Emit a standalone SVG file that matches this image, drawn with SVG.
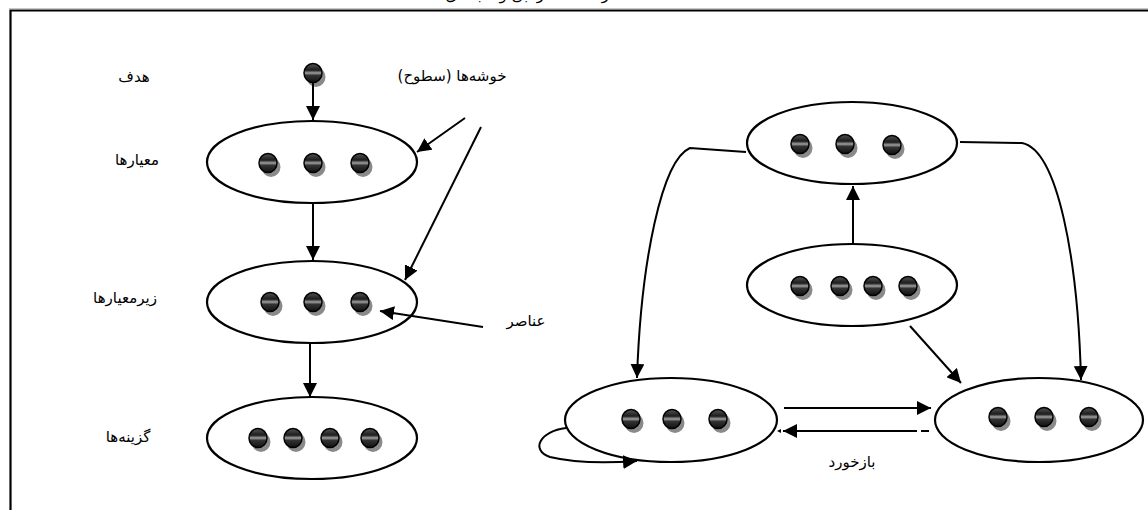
<svg xmlns="http://www.w3.org/2000/svg" xmlns:xlink="http://www.w3.org/1999/xlink" width="1148" height="510" viewBox="0 0 1148 510">
<style>
.lbl{font-family:"DejaVu Sans",sans-serif;font-size:15px;fill:#000;}
.el{fill:#fff;stroke:#000;stroke-width:2.2;}
.cn{fill:none;stroke:#000;stroke-width:2;}
.frame{fill:none;stroke:#000;stroke-width:2.2;}
</style>
<defs>
<linearGradient id="dg" x1="0" y1="0" x2="0" y2="1">
<stop offset="0" stop-color="#555"/>
<stop offset="0.35" stop-color="#1c1c1c"/>
<stop offset="0.5" stop-color="#a0a0a0"/>
<stop offset="0.62" stop-color="#333"/>
<stop offset="1" stop-color="#111"/>
</linearGradient>
<g id="dot">
<ellipse cx="3" cy="4" rx="9.5" ry="10" fill="#8a8a8a"/>
<ellipse cx="0" cy="0" rx="9" ry="9.5" fill="url(#dg)" stroke="#000" stroke-width="1.5"/>
</g>
<marker id="ah" markerUnits="userSpaceOnUse" markerWidth="16" markerHeight="14" refX="14" refY="7" orient="auto">
<path d="M0,0 L14,7 L0,14 Z" fill="#000"/>
</marker>
</defs>

<g id="frame">
<line x1="9" y1="8.5" x2="1148" y2="8.5" stroke="#c8c8c8" stroke-width="1"/>
<path class="frame" d="M10.5,510 V10.5 H1148"/>
<text class="lbl" x="545" y="0" text-anchor="middle" direction="rtl" font-size="19">ساختار سلسله‌مراتبی و شبکه‌ای</text>
</g>

<g id="labels">
<text class="lbl" x="134" y="82" text-anchor="middle" direction="rtl">هدف</text>
<text class="lbl" x="137" y="165" text-anchor="middle" direction="rtl">معیارها</text>
<text class="lbl" x="125" y="303" text-anchor="middle" direction="rtl">زیرمعیارها</text>
<text class="lbl" x="128" y="442" text-anchor="middle" direction="rtl">گزینه‌ها</text>
<text class="lbl" x="452" y="81" text-anchor="middle" direction="rtl">خوشه‌ها (سطوح)</text>
<text class="lbl" x="526" y="326" text-anchor="middle" direction="rtl">عناصر</text>
<text class="lbl" x="852" y="467" text-anchor="middle" direction="rtl">بازخورد</text>
</g>

<g id="goal">
<use xlink:href="#dot" x="313" y="73"/>
</g>

<g id="criteria">
<ellipse class="el" cx="312" cy="162" rx="105" ry="41"/>
<use xlink:href="#dot" x="268" y="163"/>
<use xlink:href="#dot" x="313" y="163"/>
<use xlink:href="#dot" x="360" y="163"/>
</g>

<g id="subcriteria">
<ellipse class="el" cx="312" cy="302" rx="105" ry="41"/>
<use xlink:href="#dot" x="270" y="302"/>
<use xlink:href="#dot" x="313" y="302"/>
<use xlink:href="#dot" x="360" y="302"/>
</g>

<g id="alternatives">
<ellipse class="el" cx="312" cy="438" rx="105" ry="41"/>
<use xlink:href="#dot" x="258" y="438"/>
<use xlink:href="#dot" x="293" y="438"/>
<use xlink:href="#dot" x="330" y="438"/>
<use xlink:href="#dot" x="370" y="438"/>
</g>

<g id="net-top">
<ellipse class="el" cx="852" cy="143" rx="105" ry="41"/>
<use xlink:href="#dot" x="800" y="144"/>
<use xlink:href="#dot" x="845" y="144"/>
<use xlink:href="#dot" x="892" y="145"/>
</g>

<g id="net-middle">
<ellipse class="el" cx="852" cy="285" rx="105" ry="41"/>
<use xlink:href="#dot" x="800" y="286"/>
<use xlink:href="#dot" x="840" y="286"/>
<use xlink:href="#dot" x="873" y="286"/>
<use xlink:href="#dot" x="908" y="286"/>
</g>

<g id="net-left">
<ellipse class="el" cx="671" cy="420" rx="106" ry="42"/>
<use xlink:href="#dot" x="631" y="419"/>
<use xlink:href="#dot" x="672" y="419"/>
<use xlink:href="#dot" x="718" y="419"/>
</g>

<g id="net-right">
<ellipse class="el" cx="1039" cy="420" rx="104" ry="42"/>
<use xlink:href="#dot" x="998" y="417"/>
<use xlink:href="#dot" x="1044" y="417"/>
<use xlink:href="#dot" x="1089" y="417"/>
</g>

<g id="connectors">
<line class="cn" x1="313" y1="82" x2="313" y2="120" marker-end="url(#ah)"/>
<line class="cn" x1="313" y1="203" x2="313" y2="260" marker-end="url(#ah)"/>
<line class="cn" x1="310" y1="343" x2="310" y2="397" marker-end="url(#ah)"/>
<line class="cn" x1="465" y1="118" x2="417" y2="152" marker-end="url(#ah)"/>
<line class="cn" x1="481" y1="127" x2="405" y2="280" marker-end="url(#ah)"/>
<line class="cn" x1="483" y1="327" x2="380" y2="311" marker-end="url(#ah)"/>
<line class="cn" x1="853" y1="243" x2="853" y2="186" marker-end="url(#ah)"/>
<path class="cn" d="M746,152 L690,148 C662,160 641,260 637,378" marker-end="url(#ah)"/>
<path class="cn" d="M960,142 L1022,143 C1058,150 1078,260 1081,380" marker-end="url(#ah)"/>
<line class="cn" x1="910" y1="326" x2="961" y2="383" marker-end="url(#ah)"/>
<line class="cn" x1="784" y1="408" x2="931" y2="408" marker-end="url(#ah)"/>
<line class="cn" x1="917" y1="431" x2="783" y2="431" marker-end="url(#ah)"/>
<line class="cn" x1="921" y1="431" x2="929" y2="431"/>
<path d="M781,429 L777,431 L781,433 Z" fill="#000"/>
<path class="cn" d="M566,428 C540,431 530,450 550,457 C575,463 610,463 637,461" marker-end="url(#ah)"/>
</g>
</svg>
